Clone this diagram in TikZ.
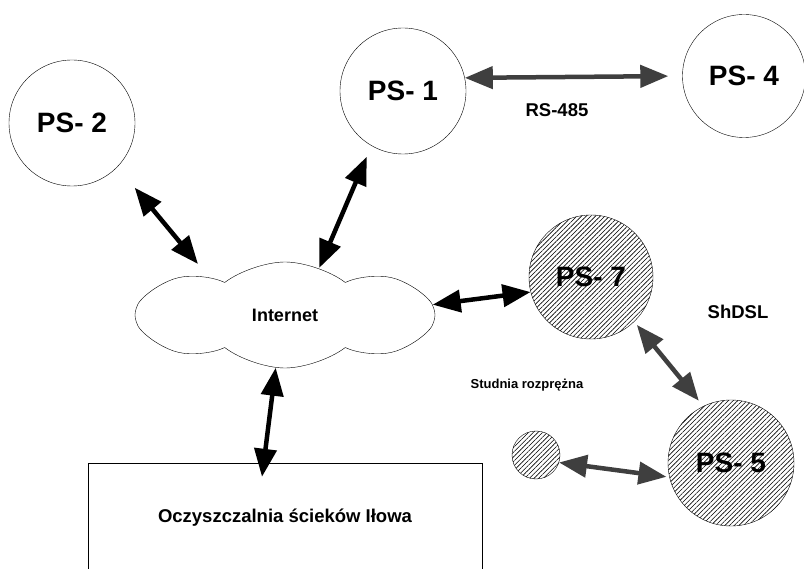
\documentclass[tikz,border=0pt]{standalone}
\usepackage{fontspec}
\setmainfont{Liberation Sans}
\usetikzlibrary{arrows.meta,shapes.symbols,patterns.meta,calc}
\definecolor{darkline}{HTML}{3F3F3F}

\begin{document}
\begin{tikzpicture}[x=1pt,y=-1pt,
    station/.style={draw,circle,thin,minimum size=126pt,inner sep=0pt,font=\fontsize{28}{30}\selectfont\bfseries},
    hatched/.style={pattern={Lines[angle=45,distance=3.3pt,line width=0.6pt]}},
    link/.style={line width=4.5pt,{Triangle[length=28pt,width=22pt]}-{Triangle[length=28pt,width=22pt]}},
    label/.style={inner sep=0pt,font=\fontsize{18.5}{20}\selectfont\bfseries}]
  \useasboundingbox (0,0) rectangle (804,569);
  \clip (0,0) rectangle (804,569);
  \node (ps2) at (72,123) [station] {PS- 2};
  \node (ps1) at (403,91) [station] {PS- 1};
  \node (ps4) at (744,76) [station,minimum size=123pt] {PS- 4};
  \node (ps7) at (591,277) [station,hatched,minimum size=124pt] {PS- 7};
  \node (ps5) at (731,463) [station,hatched] {PS- 5};
  \node (well) at (536,455) [draw,circle,thin,hatched,minimum size=48pt,inner sep=0pt] {}; % small well
  \node (net) at (285,315) [draw,thin,fill=white,cloud,cloud puffs=8,cloud puff arc=75,
    minimum width=300pt,minimum height=106pt,label] {};
  \node at (net.center) [label,font=\fontsize{18}{20}\selectfont\bfseries] (netlbl) {Internet};
  \node (plant) at (285,518) [draw,thin,minimum width=394pt,minimum height=110pt,label] {Oczyszczalnia ścieków Iłowa};
  \node (rs) at (557,110) [label] {RS-485};
  \node (dsl) at (738,312) [label] {ShDSL};
  \node (studnia) at (527,385) [label,font=\fontsize{13}{14}\selectfont\bfseries] {Studnia rozprężna};
  % connections
  \draw[link] (ps2.-44) [shorten <=27pt] -- ($(net.center)+(-87,-51)$);
  \draw[link] (ps1.-120) [shorten <=12pt] -- (net.54);
  \draw[link] (net.4) -- (ps7.-166);
  \draw[link] (net.-100) -- ($(plant.north)+(-23,14)$);
  \draw[link,darkline] (ps1.12) -- (ps4.180) [shorten >=14pt];
  \draw[link,darkline] (ps7.-46) [shorten <=4pt] -- (ps5.116) [shorten >=7pt];
  \draw[link,darkline] (well.-18) -- (ps5.-167) [shorten >=3pt];
\end{tikzpicture}
\end{document}
